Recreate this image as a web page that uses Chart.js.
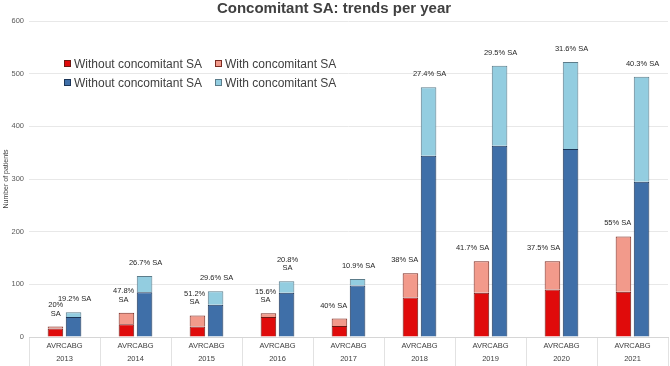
<!DOCTYPE html>
<html>
<head>
<meta charset="utf-8">
<script src="https://cdn.jsdelivr.net/npm/chart.js@4.4.1/dist/chart.umd.min.js"></script>
<style>
  html, body { margin: 0; padding: 0; background: #fff; }
  #wrap { position: relative; width: 670px; height: 366px; }
  #legend {
    position: absolute; left: 64px; top: 54px;
    display: grid; grid-template-columns: 151px auto; grid-auto-rows: 19px;
    font: 12px "Liberation Sans", Arial, sans-serif; color: #404040;
  }
  #legend .item { display: flex; align-items: center; white-space: nowrap; }
  #legend .box { width: 5px; height: 5px; border: 1px solid #333; margin-right: 3px; }
</style>
</head>
<body>
<div id="wrap">
  <canvas id="chart_concomitantSA" width="670" height="366"></canvas>
  <div id="legend"></div>
</div>
<script>
var years = ['2013', '2014', '2015', '2016', '2017', '2018', '2019', '2020', '2021'];
var avrWithout = [16, 24, 20, 38, 21, 75, 84, 90, 86];
var avrWith = [4, 22, 21, 7, 14, 46, 60, 54, 105];
var cabgWithout = [38, 85, 61, 84, 98, 344, 363, 357, 295];
var cabgWith = [9, 31, 26, 22, 12, 130, 152, 165, 199];
var avrLabels = ['20%\nSA', '47.8%\nSA', '51.2%\nSA', '15.6%\nSA', '40% SA', '38% SA', '41.7% SA', '37.5% SA', '55% SA'];
var cabgLabels = ['19.2% SA', '26.7% SA', '29.6% SA', '20.8%\nSA', '10.9% SA', '27.4% SA', '29.5% SA', '31.6% SA', '40.3% SA'];
var yTicks = [0, 100, 200, 300, 400, 500, 600];

var fontFamily = '"Liberation Sans", Arial, sans-serif';

var chart_concomitantSA = new Chart(document.getElementById('chart_concomitantSA'), {
    type: 'bar',
    data: {
        labels: years.map(function(y) { return ['AVRCABG', y]; }),
        datasets: [
            {
                label: 'Without concomitant SA',
                stack: 'AVR',
                data: avrWithout,
                backgroundColor: '#e00b0b',
                borderColor: '#6e1a14',
                borderWidth: 1
            },
            {
                label: 'With concomitant SA',
                stack: 'AVR',
                data: avrWith,
                backgroundColor: '#f29a8b',
                borderColor: '#7a2a20',
                borderWidth: 1
            },
            {
                label: 'Without concomitant SA',
                stack: 'CABG',
                data: cabgWithout,
                backgroundColor: '#3f6fa8',
                borderColor: '#1c3557',
                borderWidth: 1
            },
            {
                label: 'With concomitant SA',
                stack: 'CABG',
                data: cabgWith,
                backgroundColor: '#93cde0',
                borderColor: '#5c7c8a',
                borderWidth: 1
            }
        ]
    },
    options: {
        animation: false,
        responsive: false,
        categoryPercentage: 0.51,
        barPercentage: 0.86,
        layout: { padding: { left: 0, right: 2, top: 0, bottom: 0 } },
        plugins: {
            legend: { display: false },
            tooltip: { enabled: false },
            title: {
                display: true,
                text: 'Concomitant SA: trends per year',
                color: '#404040',
                font: { family: fontFamily, size: 15, weight: 'bold' },
                padding: { top: 0, bottom: 3 }
            }
        },
        scales: {
            x: {
                stacked: true,
                grid: {
                    offset: true,
                    drawOnChartArea: false,
                    tickLength: 29,
                    color: '#e2e2e2'
                },
                border: { display: true, color: '#d6d6d6' },
                ticks: {
                    padding: -26,
                    color: '#404040',
                    maxRotation: 0,
                    font: { family: fontFamily, size: 7.5, lineHeight: 1.7 }
                },
                afterFit: function(scale) { scale.height = 29; }
            },
            y: {
                stacked: true,
                min: 0,
                max: 600,
                afterBuildTicks: function(scale) {
                    scale.ticks = yTicks.map(function(v) { return { value: v }; });
                },
                grid: { drawTicks: false, color: '#e8e8e8' },
                border: { display: false },
                ticks: {
                    padding: 5,
                    color: '#595959',
                    font: { family: fontFamily, size: 7.5 }
                },
                title: {
                    display: true,
                    text: 'Number of patients',
                    color: '#404040',
                    font: { family: fontFamily, size: 7 },
                    padding: { top: 2, bottom: 0 }
                },
                afterFit: function(scale) { scale.width = 29; }
            }
        }
    },
    plugins: [{
        id: 'saLabels',
        afterDatasetsDraw: function(chart) {
            var ctx = chart.ctx;
            ctx.save();
            ctx.font = '7.5px ' + fontFamily;
            ctx.fillStyle = '#262626';
            ctx.textAlign = 'center';
            ctx.textBaseline = 'middle';
            var lineH = 8.5;
            function drawLabel(text, bar, anchorRight) {
                var lines = text.split('\n');
                var w = 0;
                lines.forEach(function(l) { w = Math.max(w, ctx.measureText(l).width); });
                var cx = anchorRight ? bar.x + bar.width / 2 - w / 2 : bar.x + 1;
                var bottomY = bar.y - 13;
                lines.forEach(function(l, k) {
                    ctx.fillText(l, cx, bottomY - (lines.length - 1 - k) * lineH);
                });
            }
            var avrMeta = chart.getDatasetMeta(1);
            var cabgMeta = chart.getDatasetMeta(3);
            years.forEach(function(y, i) {
                drawLabel(avrLabels[i], avrMeta.data[i], true);
                drawLabel(cabgLabels[i], cabgMeta.data[i], false);
            });
            ctx.restore();
        }
    }, {
        id: 'whiteBg',
        beforeDraw: function(chart) {
            var ctx = chart.canvas.getContext('2d');
            ctx.save();
            ctx.globalCompositeOperation = 'destination-over';
            ctx.fillStyle = 'white';
            ctx.fillRect(0, 0, chart.canvas.width, chart.canvas.height);
            ctx.restore();
        }
    }]
});

// legend in a 2x2 grid inside the plot, like the original
var legendEl = document.getElementById('legend');
chart_concomitantSA.data.datasets.forEach(function(ds) {
    var item = document.createElement('div');
    item.className = 'item';
    var box = document.createElement('span');
    box.className = 'box';
    box.style.background = ds.backgroundColor;
    box.style.borderColor = ds.borderColor;
    item.appendChild(box);
    item.appendChild(document.createTextNode(ds.label));
    legendEl.appendChild(item);
});
</script>
</body>
</html>
